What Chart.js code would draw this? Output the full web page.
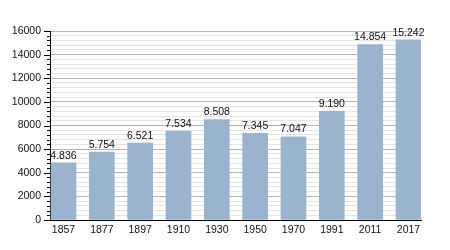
<!DOCTYPE html>
<html>
<head>
<meta charset="utf-8">
<script src="https://cdn.jsdelivr.net/npm/chart.js@4/dist/chart.umd.min.js"></script>
<style>
html,body{margin:0;padding:0;background:#fff;}
#wrap{width:450px;height:250px;}
</style>
</head>
<body>
<div id="wrap"><canvas id="c" width="450" height="250"></canvas></div>
<script>
const categories = ["1857","1877","1897","1910","1930","1950","1970","1991","2011","2017"];
const population = [4836, 5754, 6521, 7534, 8508, 7345, 7047, 9190, 14854, 15242];
const yTickLabels = [0, 2000, 4000, 6000, 8000, 10000, 12000, 14000, 16000];

const FONT = "'Liberation Sans', Arial, sans-serif";
function fmt(v){ return String(v).replace(/\B(?=(\d{3})+(?!\d))/g, '.'); }

const extras = {
  id: 'extras',
  afterDraw(chart){
    const ctx = chart.ctx;
    const y = chart.scales.y;
    const left = chart.chartArea.left;
    ctx.save();
    ctx.strokeStyle = '#000';
    ctx.lineWidth = 1;
    y.ticks.forEach(t => {
      const py = Math.round(y.getPixelForValue(t.value)) + 0.5;
      const len = (t.value % 2000 === 0) ? 6 : 3;
      ctx.beginPath();
      ctx.moveTo(left - len, py);
      ctx.lineTo(left, py);
      ctx.stroke();
    });
    ctx.fillStyle = '#111';
    ctx.font = '10.5px ' + FONT;
    ctx.textAlign = 'center';
    ctx.textBaseline = 'bottom';
    const meta = chart.getDatasetMeta(0);
    meta.data.forEach((bar, i) => {
      ctx.fillText(fmt(population[i]), bar.x, bar.y - 2);
    });
    ctx.restore();
  }
};

new Chart(document.getElementById('c'), {
  type: 'bar',
  data: {
    datasets: [{
      data: population.map((v, i) => ({x: i, y: v})),
      backgroundColor: '#9ab3cf',
      borderWidth: 0,
      barThickness: 25
    }]
  },
  options: {
    responsive: false,
    animation: false,
    layout: { padding: { top: 31, right: 29, bottom: 0, left: 0 } },
    plugins: { legend: { display: false }, tooltip: { enabled: false } },
    scales: {
      x: {
        type: 'linear',
        offset: false,
        min: -0.352,
        max: 9.327,
        afterBuildTicks: (s) => { s.ticks = categories.map((c, i) => ({ value: i })); },
        afterFit: (s) => { s.height = 30; },
        grid: { display: false, drawTicks: false, offset: false },
        border: { display: true, color: '#000', width: 1 },
        ticks: {
          autoSkip: false,
          maxRotation: 0,
          padding: 4,
          color: '#111',
          font: { family: FONT, size: 10.5 },
          callback: (v) => categories[Math.round(v)] ?? ''
        }
      },
      y: {
        min: 0,
        max: 16000,
        afterFit: (s) => { s.width = 50; },
        grid: {
          drawTicks: false,
          color: (c) => (c.tick && c.tick.value % 2000 === 0) ? '#b4b4b4' : '#e4e4e4',
          lineWidth: 1
        },
        border: { display: true, color: '#000', width: 1 },
        ticks: {
          stepSize: 400,
          autoSkip: false,
          padding: 9,
          color: '#111',
          font: { family: FONT, size: 10.5 },
          callback: (v) => yTickLabels.includes(v) ? String(v) : ''
        }
      }
    }
  },
  plugins: [extras]
});
</script>
</body>
</html>
